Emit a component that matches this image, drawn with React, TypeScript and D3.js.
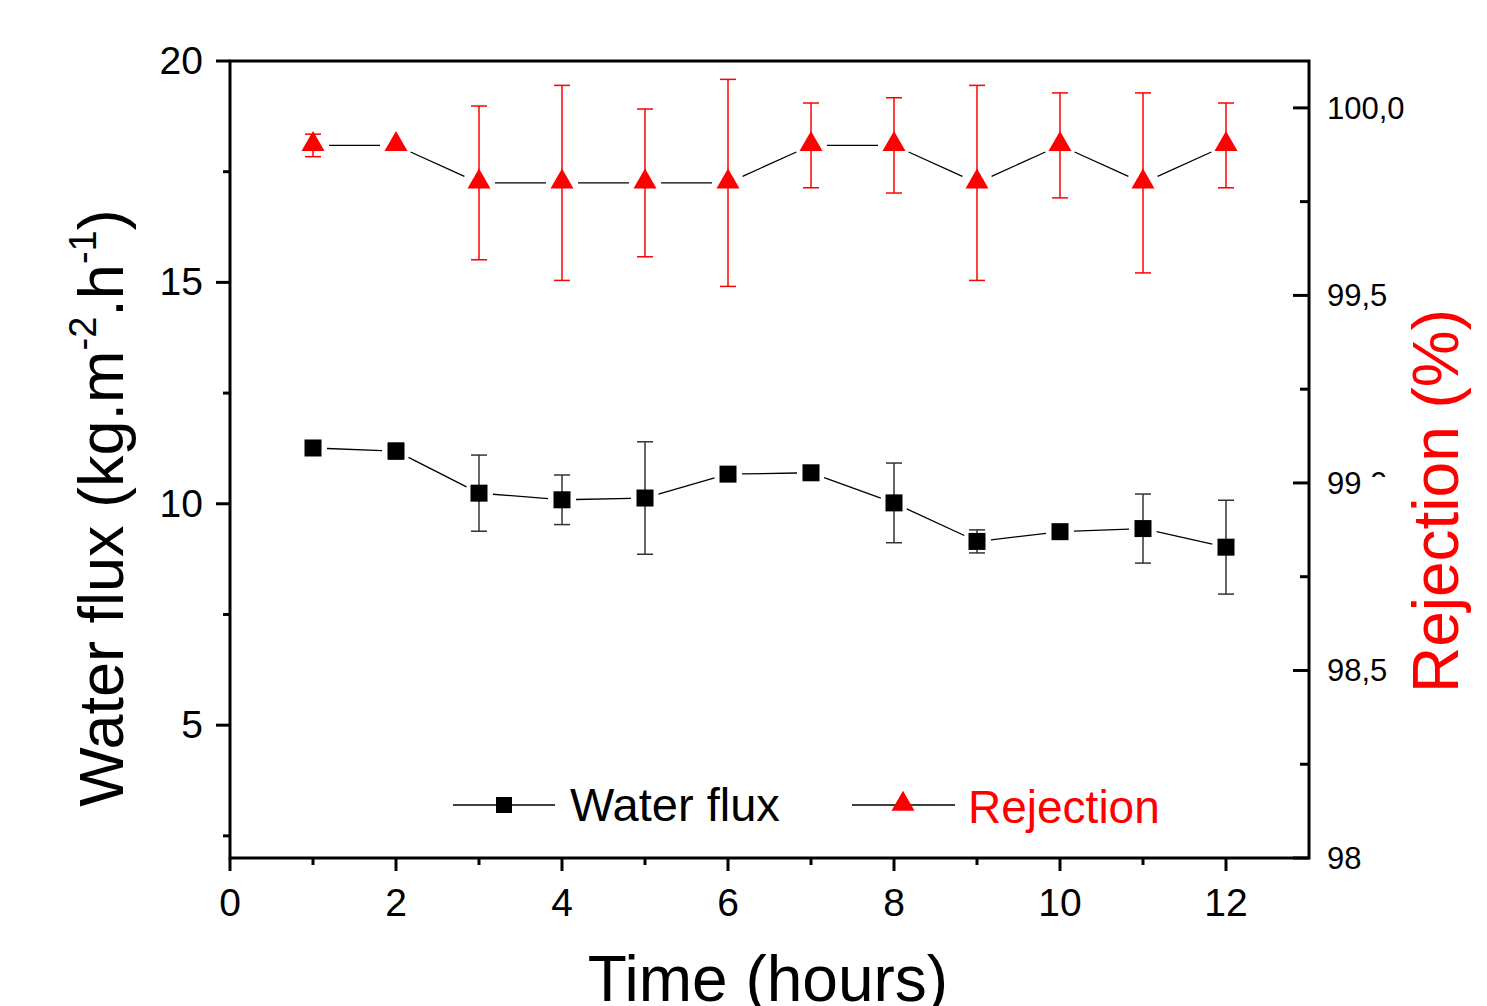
import * as d3 from "d3";

const hours = [1, 2, 3, 4, 5, 6, 7, 8, 9, 10, 11, 12];
const waterFlux = [11.26, 11.19, 10.24, 10.09, 10.13, 10.67, 10.7, 10.02, 9.15, 9.37, 9.44, 9.02];
const waterFluxErr = [0.05, 0.18, 0.86, 0.56, 1.27, 0.05, 0.05, 0.9, 0.26, 0.08, 0.78, 1.06];
const rejection = [99.9, 99.9, 99.8, 99.8, 99.8, 99.8, 99.9, 99.9, 99.8, 99.9, 99.8, 99.9];
const rejectionErr = [0.03, 0.0, 0.205, 0.26, 0.197, 0.276, 0.113, 0.127, 0.26, 0.14, 0.24, 0.113];
const xTicks = [0, 2, 4, 6, 8, 10, 12];
const leftTicks = [5, 10, 15, 20];
const rightTicks = [98, 98.5, 99, 99.5, 100];
const rightTickLabels = ["98,0", "98,5", "99,0", "99,5", "100,0"];

const W = 1487;
const H = 1006;
const left = 230;
const right = 1309;
const top = 61;
const bottom = 858;
const FONT = "Liberation Sans, Arial, sans-serif";

export default function App() {
  const x = d3.scaleLinear().domain([0, 13]).range([left, right]);
  const yL = d3.scaleLinear().domain([2, 20]).range([bottom, top]);
  const yR = d3.scaleLinear().domain([98, 100.125]).range([bottom, top]);

  const triangle = d3.symbol().type(d3.symbolTriangle).size(230);

  // connecting segments with small gaps near the markers
  const segments = (ys: number[], y: d3.ScaleLinear<number, number>, gap: number) =>
    hours.slice(1).map((h, i) => {
      const x0 = x(hours[i]), y0 = y(ys[i]);
      const x1 = x(h), y1 = y(ys[i + 1]);
      const len = Math.hypot(x1 - x0, y1 - y0);
      const ux = (x1 - x0) / len, uy = (y1 - y0) / len;
      return { x1: x0 + ux * gap, y1: y0 + uy * gap, x2: x1 - ux * gap, y2: y1 - uy * gap };
    });

  const fluxSegs = segments(waterFlux, yL, 14);
  const rejSegs = segments(rejection, yR, 16);

  const xMinor = d3.range(1, 13, 2);
  const leftMinor = [2.5, 7.5, 12.5, 17.5];
  const rightMinor = [98.25, 98.75, 99.25, 99.75];

  return (
    <svg width={W} height={H} style={{ position: "absolute", left: 0, top: 0, background: "#fff" }}
      fontFamily={FONT}>
      <defs>
        <clipPath id="clip990">
          <rect x={1300} y={440} width={63} height={60} />
          <rect x={1370} y={440} width={40} height={37} />
        </clipPath>
        <clipPath id="clip980">
          <rect x={1300} y={820} width={62} height={60} />
        </clipPath>
      </defs>

      {/* frame */}
      <rect x={left} y={top} width={right - left} height={bottom - top} fill="none" stroke="#000" strokeWidth={3} />

      {/* bottom axis */}
      {xTicks.map((t) => (
        <g key={"xt" + t}>
          <line x1={x(t)} x2={x(t)} y1={bottom} y2={bottom + 13} stroke="#000" strokeWidth={3} />
          <text x={x(t)} y={bottom + 58} fontSize={39} textAnchor="middle">{t}</text>
        </g>
      ))}
      {xMinor.map((t) => (
        <line key={"xm" + t} x1={x(t)} x2={x(t)} y1={bottom} y2={bottom + 7} stroke="#000" strokeWidth={3} />
      ))}

      {/* left axis */}
      {leftTicks.map((t) => (
        <g key={"lt" + t}>
          <line x1={left - 14} x2={left} y1={yL(t)} y2={yL(t)} stroke="#000" strokeWidth={3} />
          <text x={left - 27} y={yL(t) + 13} fontSize={39} textAnchor="end">{t}</text>
        </g>
      ))}
      {leftMinor.map((t) => (
        <line key={"lm" + t} x1={left - 7} x2={left} y1={yL(t)} y2={yL(t)} stroke="#000" strokeWidth={3} />
      ))}

      {/* right axis */}
      {rightTicks.map((t, i) => (
        <g key={"rt" + t}>
          <line x1={right - 16} x2={right} y1={yR(t)} y2={yR(t)} stroke="#000" strokeWidth={3} />
          <text x={right + 18} y={yR(t) + 11} fontSize={31}
            clipPath={t === 99 ? "url(#clip990)" : t === 98 ? "url(#clip980)" : undefined}>
            {rightTickLabels[i]}
          </text>
        </g>
      ))}
      {rightMinor.map((t) => (
        <line key={"rm" + t} x1={right - 9} x2={right} y1={yR(t)} y2={yR(t)} stroke="#000" strokeWidth={3} />
      ))}

      {/* rejection series */}
      {rejSegs.map((s, i) => (
        <line key={"rs" + i} {...s} stroke="#000" strokeWidth={1.3} />
      ))}
      {hours.map((h, i) => rejectionErr[i] > 0 && (
        <g key={"re" + h} stroke="#f00" strokeWidth={1.5}>
          <line x1={x(h)} x2={x(h)} y1={yR(rejection[i] + rejectionErr[i])} y2={yR(rejection[i] - rejectionErr[i])} />
          <line x1={x(h) - 8} x2={x(h) + 8} y1={yR(rejection[i] + rejectionErr[i])} y2={yR(rejection[i] + rejectionErr[i])} />
          <line x1={x(h) - 8} x2={x(h) + 8} y1={yR(rejection[i] - rejectionErr[i])} y2={yR(rejection[i] - rejectionErr[i])} />
        </g>
      ))}
      {hours.map((h, i) => (
        <path key={"rp" + h} d={triangle()!} transform={`translate(${x(h)},${yR(rejection[i]) - 1})`} fill="#f00" />
      ))}

      {/* water flux series */}
      {fluxSegs.map((s, i) => (
        <line key={"fs" + i} {...s} stroke="#000" strokeWidth={1.3} />
      ))}
      {hours.map((h, i) => (
        <g key={"fe" + h} stroke="#333" strokeWidth={1.5}>
          <line x1={x(h)} x2={x(h)} y1={yL(waterFlux[i] + waterFluxErr[i])} y2={yL(waterFlux[i] - waterFluxErr[i])} />
          <line x1={x(h) - 8} x2={x(h) + 8} y1={yL(waterFlux[i] + waterFluxErr[i])} y2={yL(waterFlux[i] + waterFluxErr[i])} />
          <line x1={x(h) - 8} x2={x(h) + 8} y1={yL(waterFlux[i] - waterFluxErr[i])} y2={yL(waterFlux[i] - waterFluxErr[i])} />
        </g>
      ))}
      {hours.map((h, i) => (
        <rect key={"fp" + h} x={x(h) - 8.5} y={yL(waterFlux[i]) - 8.5} width={17} height={17} fill="#000" />
      ))}

      {/* legend */}
      <g>
        <line x1={453} x2={555} y1={805} y2={805} stroke="#000" strokeWidth={1.3} />
        <rect x={496} y={797} width={16} height={16} fill="#000" />
        <text x={570} y={821} fontSize={47}>Water flux</text>
        <line x1={852} x2={955} y1={805} y2={805} stroke="#000" strokeWidth={1.3} />
        <path d={triangle()!} transform="translate(903,804)" fill="#f00" />
        <text x={968} y={823} fontSize={46} fill="#f00">Rejection</text>
      </g>

      {/* axis titles */}
      <text x={768} y={1001} fontSize={64} textAnchor="middle">Time (hours)</text>
      <text transform={`translate(123,508) rotate(-90)`} fontSize={63} textAnchor="middle">
        Water flux (kg.m<tspan fontSize={38} dy={-27}>-2</tspan><tspan dy={27}>.h</tspan>
        <tspan fontSize={38} dy={-27}>-1</tspan><tspan dy={27}>)</tspan>
      </text>
      <text transform={`translate(1458,501) rotate(-90)`} fontSize={64} textAnchor="middle" fill="#f00">
        Rejection (%)
      </text>
    </svg>
  );
}
